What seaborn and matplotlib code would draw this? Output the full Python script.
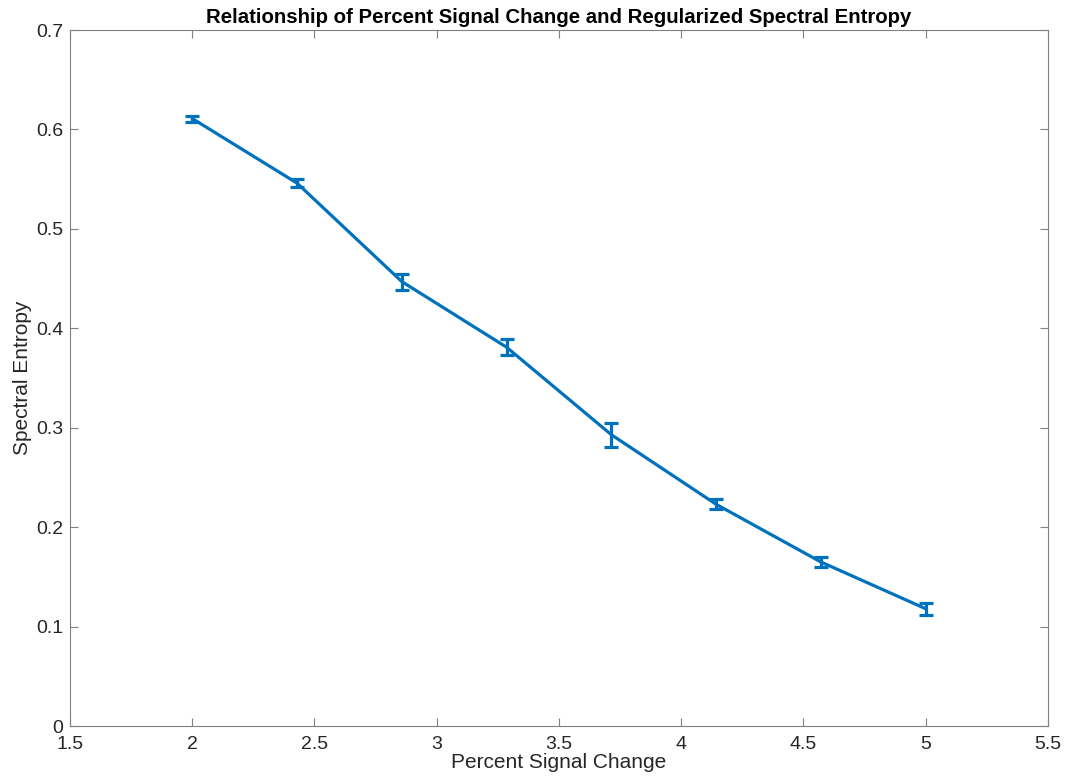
import matplotlib
matplotlib.use("Agg")
import matplotlib.pyplot as plt
import seaborn as sns
import numpy as np
import pandas as pd

psc = [2.0, 2.4286, 2.8571, 3.2857, 3.7143, 4.1429, 4.5714, 5.0]
entropy = [0.611, 0.546, 0.447, 0.381, 0.293, 0.223, 0.165, 0.118]
err = [0.003, 0.004, 0.008, 0.008, 0.012, 0.005, 0.005, 0.006]
xticks = [1.5, 2, 2.5, 3, 3.5, 4, 4.5, 5, 5.5]
xticklabels = ["1.5", "2", "2.5", "3", "3.5", "4", "4.5", "5", "5.5"]
yticks = [0, 0.1, 0.2, 0.3, 0.4, 0.5, 0.6, 0.7]
yticklabels = ["0", "0.1", "0.2", "0.3", "0.4", "0.5", "0.6", "0.7"]

sns.set_theme(style="ticks")
plt.rcParams['font.family'] = ['Liberation Sans', 'DejaVu Sans']

df = pd.DataFrame({"psc": psc, "entropy": entropy, "err": err})
color = "#0072BD"

fig = plt.figure(figsize=(10.66, 7.78), dpi=100)
ax = fig.add_axes([0.0657, 0.0668, 0.9173, 0.8946])
sns.lineplot(data=df, x="psc", y="entropy", ax=ax, color=color, linewidth=2.3)
ax.errorbar(df["psc"], df["entropy"], yerr=df["err"], fmt="none", ecolor=color,
            elinewidth=2.3, capsize=5, capthick=2.3)

ax.set_xlim(1.5, 5.5)
ax.set_ylim(0, 0.7)
ax.set_xticks(xticks)
ax.set_xticklabels(xticklabels)
ax.set_yticks(yticks)
ax.set_yticklabels(yticklabels)
for s in ax.spines.values():
    s.set_visible(True)
    s.set_color("#808080")
    s.set_linewidth(0.8)
ax.tick_params(direction="in", top=True, right=True, length=6, width=0.8,
               color="#808080", labelcolor="#262626", labelsize=14)
ax.tick_params(axis="x", pad=7)
ax.tick_params(axis="y", pad=5)
ax.set_xlabel("Percent Signal Change", fontsize=15, color="#262626", labelpad=0)
ax.set_ylabel("Spectral Entropy", fontsize=15, color="#262626", labelpad=3)
ax.set_title("Relationship of Percent Signal Change and Regularized Spectral Entropy",
             fontsize=14.7, fontweight="bold", color="black", pad=5)

fig.savefig("out.png", dpi=100)
